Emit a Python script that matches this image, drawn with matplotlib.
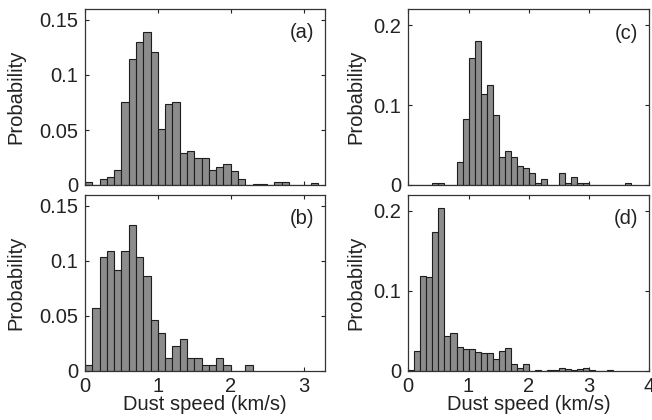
import numpy as np
import matplotlib
matplotlib.use('Agg')
import matplotlib.pyplot as plt
import matplotlib as mpl

# bin width 0.1 km/s, bins start at 0
bin_width = 0.1
prob_a = [0.0024, 0, 0.0055, 0.0076, 0.014, 0.075, 0.1145, 0.130, 0.139, 0.121,
          0.051, 0.074, 0.075, 0.0288, 0.031, 0.0243, 0.025, 0.0136, 0.0167, 0.0188,
          0.0124, 0.0052, 0, 0.0013, 0.0013, 0, 0.0025, 0.0025, 0, 0, 0, 0.0015]
prob_b = [0.0057, 0.0575, 0.1034, 0.1092, 0.092, 0.1092, 0.1322, 0.1034, 0.0862, 0.046,
          0.0345, 0.0115, 0.023, 0.0287, 0.0115, 0.0115, 0.0057, 0.0057, 0.0115, 0.0057,
          0, 0, 0.0057]
prob_c = [0, 0, 0, 0, 0.0021, 0.0021, 0, 0, 0.029, 0.083,
          0.159, 0.18, 0.114, 0.125, 0.0875, 0.035, 0.0425, 0.035, 0.024, 0.0217,
          0.015, 0.0021, 0.0071, 0, 0, 0.0154, 0.0021, 0.010, 0.0021, 0.0021,
          0, 0, 0, 0, 0, 0, 0.0021]
prob_d = [0.001, 0.025, 0.1185, 0.117, 0.174, 0.203, 0.0437, 0.048, 0.030, 0.0275,
          0.028, 0.0233, 0.022, 0.022, 0.015, 0.025, 0.0283, 0.0087, 0.0035, 0.0087,
          0, 0.001, 0, 0.001, 0.001, 0.004, 0.003, 0.001, 0.003, 0.004,
          0.001, 0, 0, 0.001]

panels = ['(a)', '(b)', '(c)', '(d)']
xlims = [3.3, 3.3, 4.0, 4.0]
ylims = [0.16, 0.16, 0.22, 0.22]
yticks = [[0, 0.05, 0.1, 0.15], [0, 0.05, 0.1, 0.15], [0, 0.1, 0.2], [0, 0.1, 0.2]]
xticks = [[0, 1, 2, 3], [0, 1, 2, 3], [0, 1, 2, 3, 4], [0, 1, 2, 3, 4]]

mpl.rcParams['font.family'] = ['Liberation Sans', 'DejaVu Sans']
mpl.rcParams['font.size'] = 14.5
mpl.rcParams['xtick.direction'] = 'in'
mpl.rcParams['ytick.direction'] = 'in'
mpl.rcParams['xtick.top'] = True
mpl.rcParams['ytick.right'] = True
mpl.rcParams['axes.linewidth'] = 0.9

fig = plt.figure(figsize=(6.52, 4.20), dpi=100)
W, H = 652., 420.
# axes boxes in pixels: left, right, top, bottom
boxes = [(85, 325.5, 9, 185), (85, 325.5, 194.7, 371),
         (408.3, 649.3, 9.3, 185), (408.3, 649.3, 194.7, 371)]
ylab_x = [-0.25, -0.25, -0.18, -0.18]

for k, (data, lab) in enumerate(zip([prob_a, prob_b, prob_c, prob_d], panels)):
    l, r, t, b = boxes[k]
    ax = fig.add_axes([l / W, 1 - b / H, (r - l) / W, (b - t) / H])
    edges = np.arange(len(data)) * bin_width
    ax.bar(edges, data, width=bin_width, align='edge',
           color='#8c8c8c', edgecolor='#1e1e1e', linewidth=0.8)
    ax.set_xlim(0, xlims[k])
    ax.set_ylim(0, ylims[k])
    ax.set_xticks(xticks[k])
    ax.set_yticks(yticks[k])
    ax.set_yticklabels(['%g' % v for v in yticks[k]])
    ax.tick_params(length=3, width=0.8, pad=5, colors='#222222', labelcolor='#222222')
    for s in ax.spines.values():
        s.set_color('#333333')
    ax.set_ylabel('Probability', color='#222222')
    ax.yaxis.set_label_coords(ylab_x[k], 0.5)
    if k in (1, 3):
        ax.set_xlabel('Dust speed (km/s)', color='#222222')
        ax.xaxis.set_label_coords(0.5, -0.135)
        ax.tick_params(axis='x', pad=4)
    else:
        ax.set_xticklabels([])
    ax.text(0.955, 0.865, lab, transform=ax.transAxes, ha='right', va='center',
            color='#222222')

fig.savefig('out.png', dpi=100)
